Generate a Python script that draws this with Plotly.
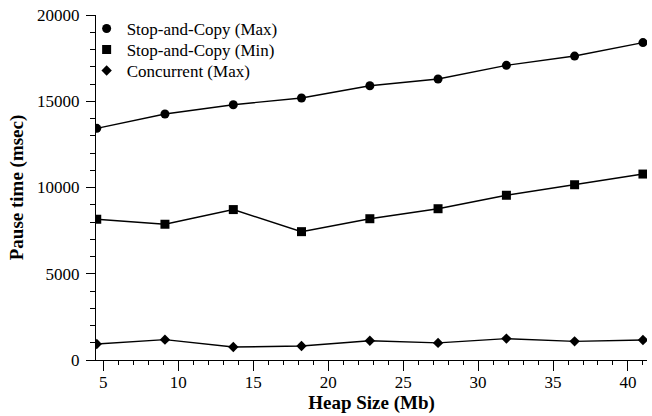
import plotly.graph_objects as go

# Heap sizes (Mb) and pause times (msec)
heap_mb = [4.56, 9.11, 13.67, 18.22, 22.78, 27.33, 31.89, 36.44, 41.0]
stop_copy_max = [13430, 14260, 14800, 15190, 15900, 16290, 17080, 17620, 18400]
stop_copy_min = [8160, 7870, 8720, 7440, 8190, 8770, 9550, 10160, 10780]
concurrent_max = [930, 1180, 750, 810, 1120, 990, 1240, 1080, 1160]

series = [
    ("Stop-and-Copy (Max)", stop_copy_max, "circle", 9, "legend"),
    ("Stop-and-Copy (Min)", stop_copy_min, "square", 9, "legend2"),
    ("Concurrent (Max)", concurrent_max, "diamond", 8, "legend3"),
]

FONT = "Liberation Serif"

fig = go.Figure()
for name, vals, sym, size, leg in series:
    # connecting line
    fig.add_trace(go.Scatter(
        x=heap_mb, y=vals, mode="lines",
        line=dict(color="black", width=1.4),
        showlegend=False, hoverinfo="skip",
    ))
    # markers (legend entry shows the marker only)
    fig.add_trace(go.Scatter(
        x=heap_mb, y=vals, mode="markers", name=name, legend=leg,
        marker=dict(symbol=sym, size=size, color="black"),
    ))

# one legend per entry so the rows sit tightly stacked
legend_style = dict(
    x=-0.017, xanchor="left", yanchor="top",
    bgcolor="rgba(0,0,0,0)", borderwidth=0,
    font=dict(family=FONT, size=17), itemwidth=30,
)

fig.update_layout(
    width=652, height=416,
    margin=dict(l=96, r=5, t=15, b=56),
    paper_bgcolor="white", plot_bgcolor="white",
    font=dict(family=FONT, size=17, color="black"),
    showlegend=True,
    legend=dict(y=1.0116, **legend_style),
    legend2=dict(y=0.9507, **legend_style),
    legend3=dict(y=0.8899, **legend_style),
)

fig.update_xaxes(
    range=[4.51, 41.27],
    tickvals=[5, 10, 15, 20, 25, 30, 35, 40],
    ticks="outside", ticklen=10, tickwidth=1.2, tickcolor="black",
    minor=dict(dtick=1, tick0=0, ticks="outside", ticklen=4, tickwidth=1.2, tickcolor="black"),
    showline=True, linecolor="black", linewidth=1.4,
    showgrid=False, zeroline=False,
    ticklabelstandoff=-4,
    tickfont=dict(family=FONT, size=17),
    title=dict(text="<b>Heap Size (Mb)</b>", font=dict(family=FONT, size=19), standoff=4),
)

fig.update_yaxes(
    range=[0, 20000],
    tickvals=[0, 5000, 10000, 15000, 20000],
    tickformat="d",
    ticks="outside", ticklen=9, tickwidth=1.2, tickcolor="black",
    minor=dict(dtick=1000, tick0=0, ticks="outside", ticklen=5, tickwidth=1.2, tickcolor="black"),
    showline=True, linecolor="black", linewidth=1.4,
    showgrid=False, zeroline=False,
    ticklabelstandoff=3,
    tickfont=dict(family=FONT, size=17),
    title=dict(text="<b>Pause time (msec)</b>", font=dict(family=FONT, size=19), standoff=8),
)

fig.write_html("out.html")
